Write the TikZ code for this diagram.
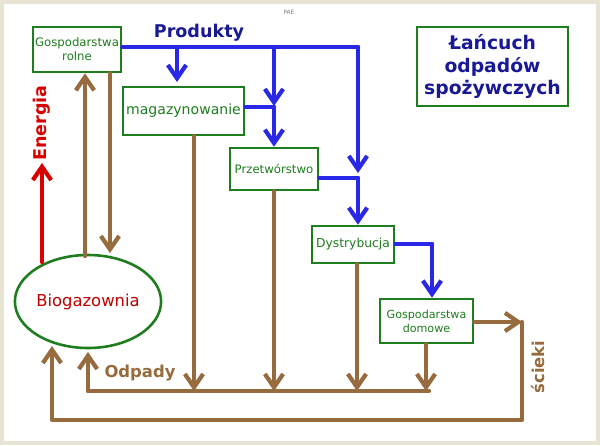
\documentclass[tikz,border=0pt]{standalone}
\usepackage{fontspec}
\setmainfont{DejaVu Sans}
\usetikzlibrary{arrows.meta,shapes.geometric}
\definecolor{prodblue}{RGB}{40,40,230}
\definecolor{wastebrown}{RGB}{150,108,62}
\definecolor{boxgreen}{RGB}{30,125,30}
\definecolor{titleblue}{RGB}{25,25,150}
\definecolor{frame}{RGB}{232,228,212}
\tikzset{
  stage/.style={draw=boxgreen,line width=2.2pt,fill=white,text=boxgreen,align=center,inner sep=1pt},
  flow/.style={line width=3.6pt,line cap=round,line join=round},
  prod/.style={flow,draw=prodblue},
  waste/.style={flow,draw=wastebrown},
  tip/.style={-{Straight Barb[length=4mm,width=5.5mm]}}
}
\begin{document}
\begin{tikzpicture}[x=0.03cm,y=-0.03cm]
  \fill[frame] (0,0) rectangle (600,445);
  \fill[white] (4,4) rectangle (596,441);
  \useasboundingbox (0,0) rectangle (600,445);
  % boxes
  \node[stage,minimum width=2.64cm,minimum height=1.35cm,font=\fontsize{10}{12}\selectfont] (rolne) at (77,49.5) {Gospodarstwa\\rolne};
  \node[stage,minimum width=3.63cm,minimum height=1.44cm,font=\fontsize{12}{14}\selectfont] (magaz) at (183.5,111) {magazynowanie};
  \node[stage,minimum width=2.64cm,minimum height=1.26cm,font=\fontsize{10}{12}\selectfont] (przetw) at (274,169) {Przetwórstwo};
  \node[stage,minimum width=2.46cm,minimum height=1.11cm,font=\fontsize{10.5}{12}\selectfont] (dystr) at (353,244.5) {Dystrybucja};
  \node[stage,minimum width=2.79cm,minimum height=1.32cm,font=\fontsize{9.5}{12}\selectfont] (domowe) at (426.5,321) {Gospodarstwa\\domowe};
  \node[draw=boxgreen,line width=2.2pt,ellipse,inner sep=0pt,minimum width=4.26cm,minimum height=2.79cm,text=red!75!black,font=\fontsize{14}{16}\selectfont] (bio) at (88,301.5) {Biogazownia};
  \node[draw=boxgreen,line width=2.2pt,minimum width=4.53cm,minimum height=2.37cm,align=center,text=titleblue,font=\bfseries\fontsize{16}{19}\selectfont] (title) at (492.5,66.5) {Łańcuch\\odpadów\\spożywczych};
  % labels
  \node[text=titleblue,font=\bfseries\fontsize{15}{17}\selectfont] (produkty) at (199,33) {Produkty};
  \node[text=wastebrown,font=\bfseries\fontsize{14}{16}\selectfont] (odpady) at (140,373) {Odpady};
  \node[text=red!85!black,rotate=90,font=\bfseries\fontsize{15}{17}\selectfont] (energia) at (42,123) {Energia};
  \node[text=wastebrown,rotate=90,font=\bfseries\fontsize{14}{16}\selectfont] (scieki) at (538,367) {ścieki};
  \node[text=gray,font=\fontsize{5}{6}\selectfont] (pae) at (289,12) {PAE};
  % product flow
  \coordinate (pA) at (177,47);
  \coordinate (pB) at (274,47);
  \coordinate (pC) at (358,47);
  \coordinate (pM) at (274,107);
  \coordinate (pP) at (358,178);
  \coordinate (pD) at (432,244);
  \draw[prod] (rolne.east |- pA) -- (pC);
  \draw[prod,tip] (pA) -- (177,82);
  \draw[prod,tip] (pB) -- (274,106);
  \draw[prod,tip] (pC) -- (358,173);
  \draw[prod] (magaz.east |- pM) -- (pM);
  \draw[prod,tip] (pM) -- (przetw.north);
  \draw[prod] (przetw.east |- pP) -- (pP);
  \draw[prod,tip] (pP) -- (dystr.north -| pP);
  \draw[prod] (dystr.east |- pD) -- (pD);
  \draw[prod,tip] (pD) -- (domowe.north -| pD);
  % energy
  \draw[flow,draw=red!85!black,tip] (42,262) -- (42,163);
  % waste flow
  \draw[waste,tip] (85,256) -- (rolne.south -| 85,0);
  \draw[waste,tip] (rolne.south -| 110,0) -- (110,253);
  \coordinate (w1) at (194,391);
  \coordinate (w2) at (274,391);
  \coordinate (w3) at (357,391);
  \coordinate (w4) at (426,391);
  \coordinate (wL) at (88,391);
  \draw[waste] (wL) -- (429,391);
  \draw[waste,tip] (magaz.south -| w1) -- (w1);
  \draw[waste,tip] (przetw.south -| w2) -- (w2);
  \draw[waste,tip] (dystr.south -| w3) -- (w3);
  \draw[waste,tip] (domowe.south -| w4) -- (w4);
  \draw[waste,tip] (wL) -- (88,352);
  \coordinate (s1) at (522,322);
  \draw[waste,tip] (domowe.east |- s1) -- (s1);
  \draw[waste,tip] (s1) -- (522,420) -- (52,420) -- (52,346);
\end{tikzpicture}
\end{document}
